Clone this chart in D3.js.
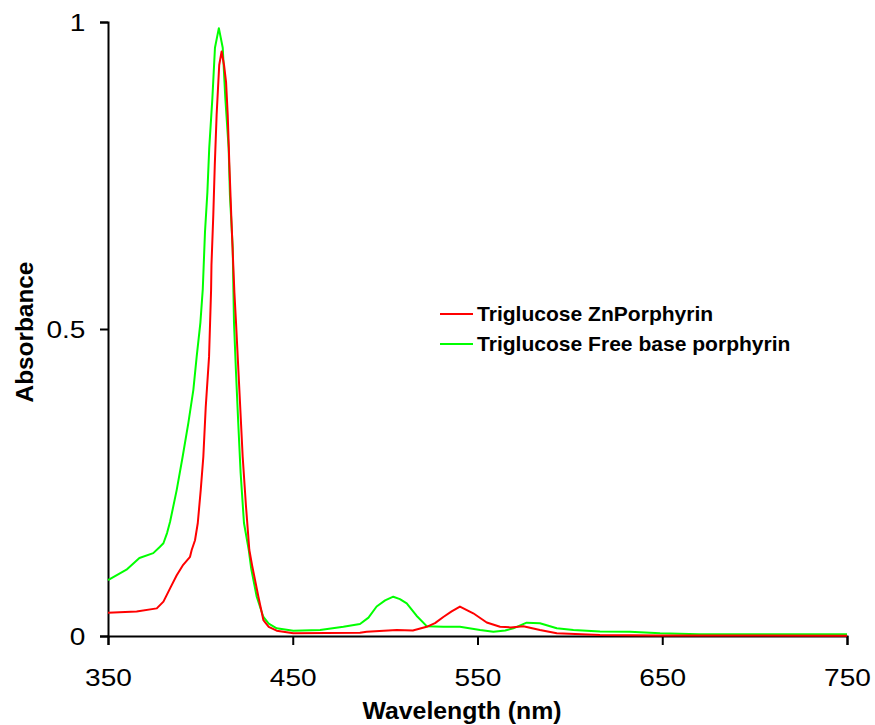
<!DOCTYPE html>
<html>
<head>
<meta charset="utf-8">
<script src="https://cdn.jsdelivr.net/npm/d3@7"></script>
<style>
  html, body { margin: 0; padding: 0; background: #fff; }
  svg { display: block; }
  text { font-family: "Liberation Sans", Arial, sans-serif; fill: #000; }
</style>
</head>
<body>
<svg id="chart" width="875" height="725"></svg>
<script>
// ---- Data ----
const xTicks = [350, 450, 550, 650, 750];
const yTicks = [0, 0.5, 1];
const yTickLabels = ["0", "0.5", "1"];
const seriesNames = ["Triglucose ZnPorphyrin", "Triglucose Free base porphyrin"];
const seriesColors = ["#ff0000", "#00ff00"];

const znWavelength = [350,365.5,376.4,380,384,387.2,390.7,394.4,395.3,397.1,398.6,400.2,401.6,402.9,404.7,405.8,406,407,407.8,408.8,410.2,411.5,412.8,413.9,414.8,415.7,416.7,417.8,418.4,419.3,421.1,422.9,424.7,426.5,428,431.4,434.1,437,441.3,450.3,486.4,490,506.3,515,522.5,527,531.5,536,540.5,547.7,555,562.2,568,574.8,583.8,592.9,616.3,648.8,750];
const znAbs = [0.038,0.040,0.045,0.056,0.08,0.099,0.116,0.129,0.140,0.156,0.184,0.238,0.292,0.373,0.455,0.564,0.604,0.686,0.767,0.849,0.93,0.952,0.93,0.902,0.849,0.767,0.686,0.604,0.56,0.51,0.401,0.292,0.211,0.14,0.115,0.064,0.026,0.015,0.0086,0.0044,0.0054,0.007,0.0098,0.009,0.015,0.021,0.031,0.04,0.048,0.037,0.022,0.015,0.014,0.016,0.0098,0.0044,0.0016,0.001,0.0005];

const fbWavelength = [350,360,367,374.5,378,380,382,383.6,387.2,390.4,393.5,396.2,398,400,401.3,402.5,403.8,404.8,406.5,407.9,410,412.1,413.5,415.3,416,417.5,417.9,418.2,419.3,420.5,421.8,423.6,426.2,427.5,430.5,434.1,437,441.3,450.3,464.8,477.4,486.4,491,495.4,500,504.4,508,511.7,517,522.5,531.5,540.5,551.4,558.6,565,569.4,576.6,583.8,592.9,601.9,616.3,632.5,648.8,670,750];
const fbAbs = [0.091,0.108,0.127,0.135,0.145,0.151,0.168,0.186,0.238,0.292,0.347,0.401,0.455,0.51,0.565,0.658,0.723,0.795,0.876,0.958,0.99,0.958,0.876,0.795,0.718,0.632,0.56,0.51,0.428,0.347,0.265,0.184,0.14,0.11,0.064,0.031,0.02,0.0125,0.0086,0.0098,0.015,0.0195,0.03,0.048,0.058,0.064,0.06,0.053,0.033,0.016,0.015,0.015,0.0098,0.007,0.009,0.0125,0.0217,0.0207,0.0125,0.0098,0.0073,0.007,0.0044,0.003,0.0028];

// ---- Layout ----
const svg = d3.select("#chart");
svg.append("rect").attr("width", 875).attr("height", 725).attr("fill", "#fff");

const x = d3.scaleLinear().domain([350, 750]).range([108, 847]);
const y = d3.scaleLinear().domain([0, 1]).range([636, 22]);

// Lines
const line = d3.line().x(d => x(d[0])).y(d => y(d[1]));
const fbData = fbWavelength.map((w, i) => [w, fbAbs[i]]);
const znData = znWavelength.map((w, i) => [w, znAbs[i]]);

// Axes
const xAxis = svg.append("g").attr("transform", "translate(0,636)")
  .call(d3.axisBottom(x).tickValues(xTicks).tickSize(9).tickSizeOuter(9).tickFormat(d3.format("d")));
xAxis.selectAll("path, line").attr("stroke", "#000").attr("stroke-width", 2);
xAxis.selectAll("text")
  .attr("y", 50).attr("dy", 0)
  .attr("font-size", 23)
  .attr("font-family", "Liberation Sans, Arial, sans-serif")
  .attr("transform", "scale(1.22,1)");

const yAxis = svg.append("g").attr("transform", "translate(108,0)")
  .call(d3.axisLeft(y).tickValues(yTicks).tickSize(8).tickSizeOuter(8)
    .tickFormat((d, i) => yTickLabels[i]));
yAxis.selectAll("path, line").attr("stroke", "#000").attr("stroke-width", 2);
yAxis.selectAll("text")
  .attr("x", -18.5).attr("dy", 0).attr("y", 8)
  .attr("font-size", 23)
  .attr("font-family", "Liberation Sans, Arial, sans-serif")
  .attr("transform", "scale(1.22,1)");

// Series lines (drawn over axes)
svg.append("path").datum(fbData)
  .attr("fill", "none").attr("stroke", seriesColors[1]).attr("stroke-width", 2)
  .attr("stroke-linejoin", "round").attr("d", line);
svg.append("path").datum(znData)
  .attr("fill", "none").attr("stroke", seriesColors[0]).attr("stroke-width", 2)
  .attr("stroke-linejoin", "round").attr("d", line);

// Axis titles
svg.append("text")
  .attr("transform", "translate(462,719) scale(1.08,1)")
  .attr("text-anchor", "middle")
  .attr("font-size", 23).attr("font-weight", "bold")
  .text("Wavelength (nm)");
svg.append("text")
  .attr("transform", "translate(33,332) rotate(-90) scale(1.06,1)")
  .attr("text-anchor", "middle")
  .attr("font-size", 23).attr("font-weight", "bold")
  .text("Absorbance");

// Legend
const legendY = [314, 344];
seriesNames.forEach((name, i) => {
  svg.append("line")
    .attr("x1", 440).attr("x2", 473)
    .attr("y1", legendY[i]).attr("y2", legendY[i])
    .attr("stroke", seriesColors[i]).attr("stroke-width", 2);
  svg.append("text")
    .attr("transform", `translate(477,${legendY[i] + 7}) scale(1.08,1)`)
    .attr("font-size", 19.5).attr("font-weight", "bold")
    .text(name);
});
</script>
</body>
</html>
